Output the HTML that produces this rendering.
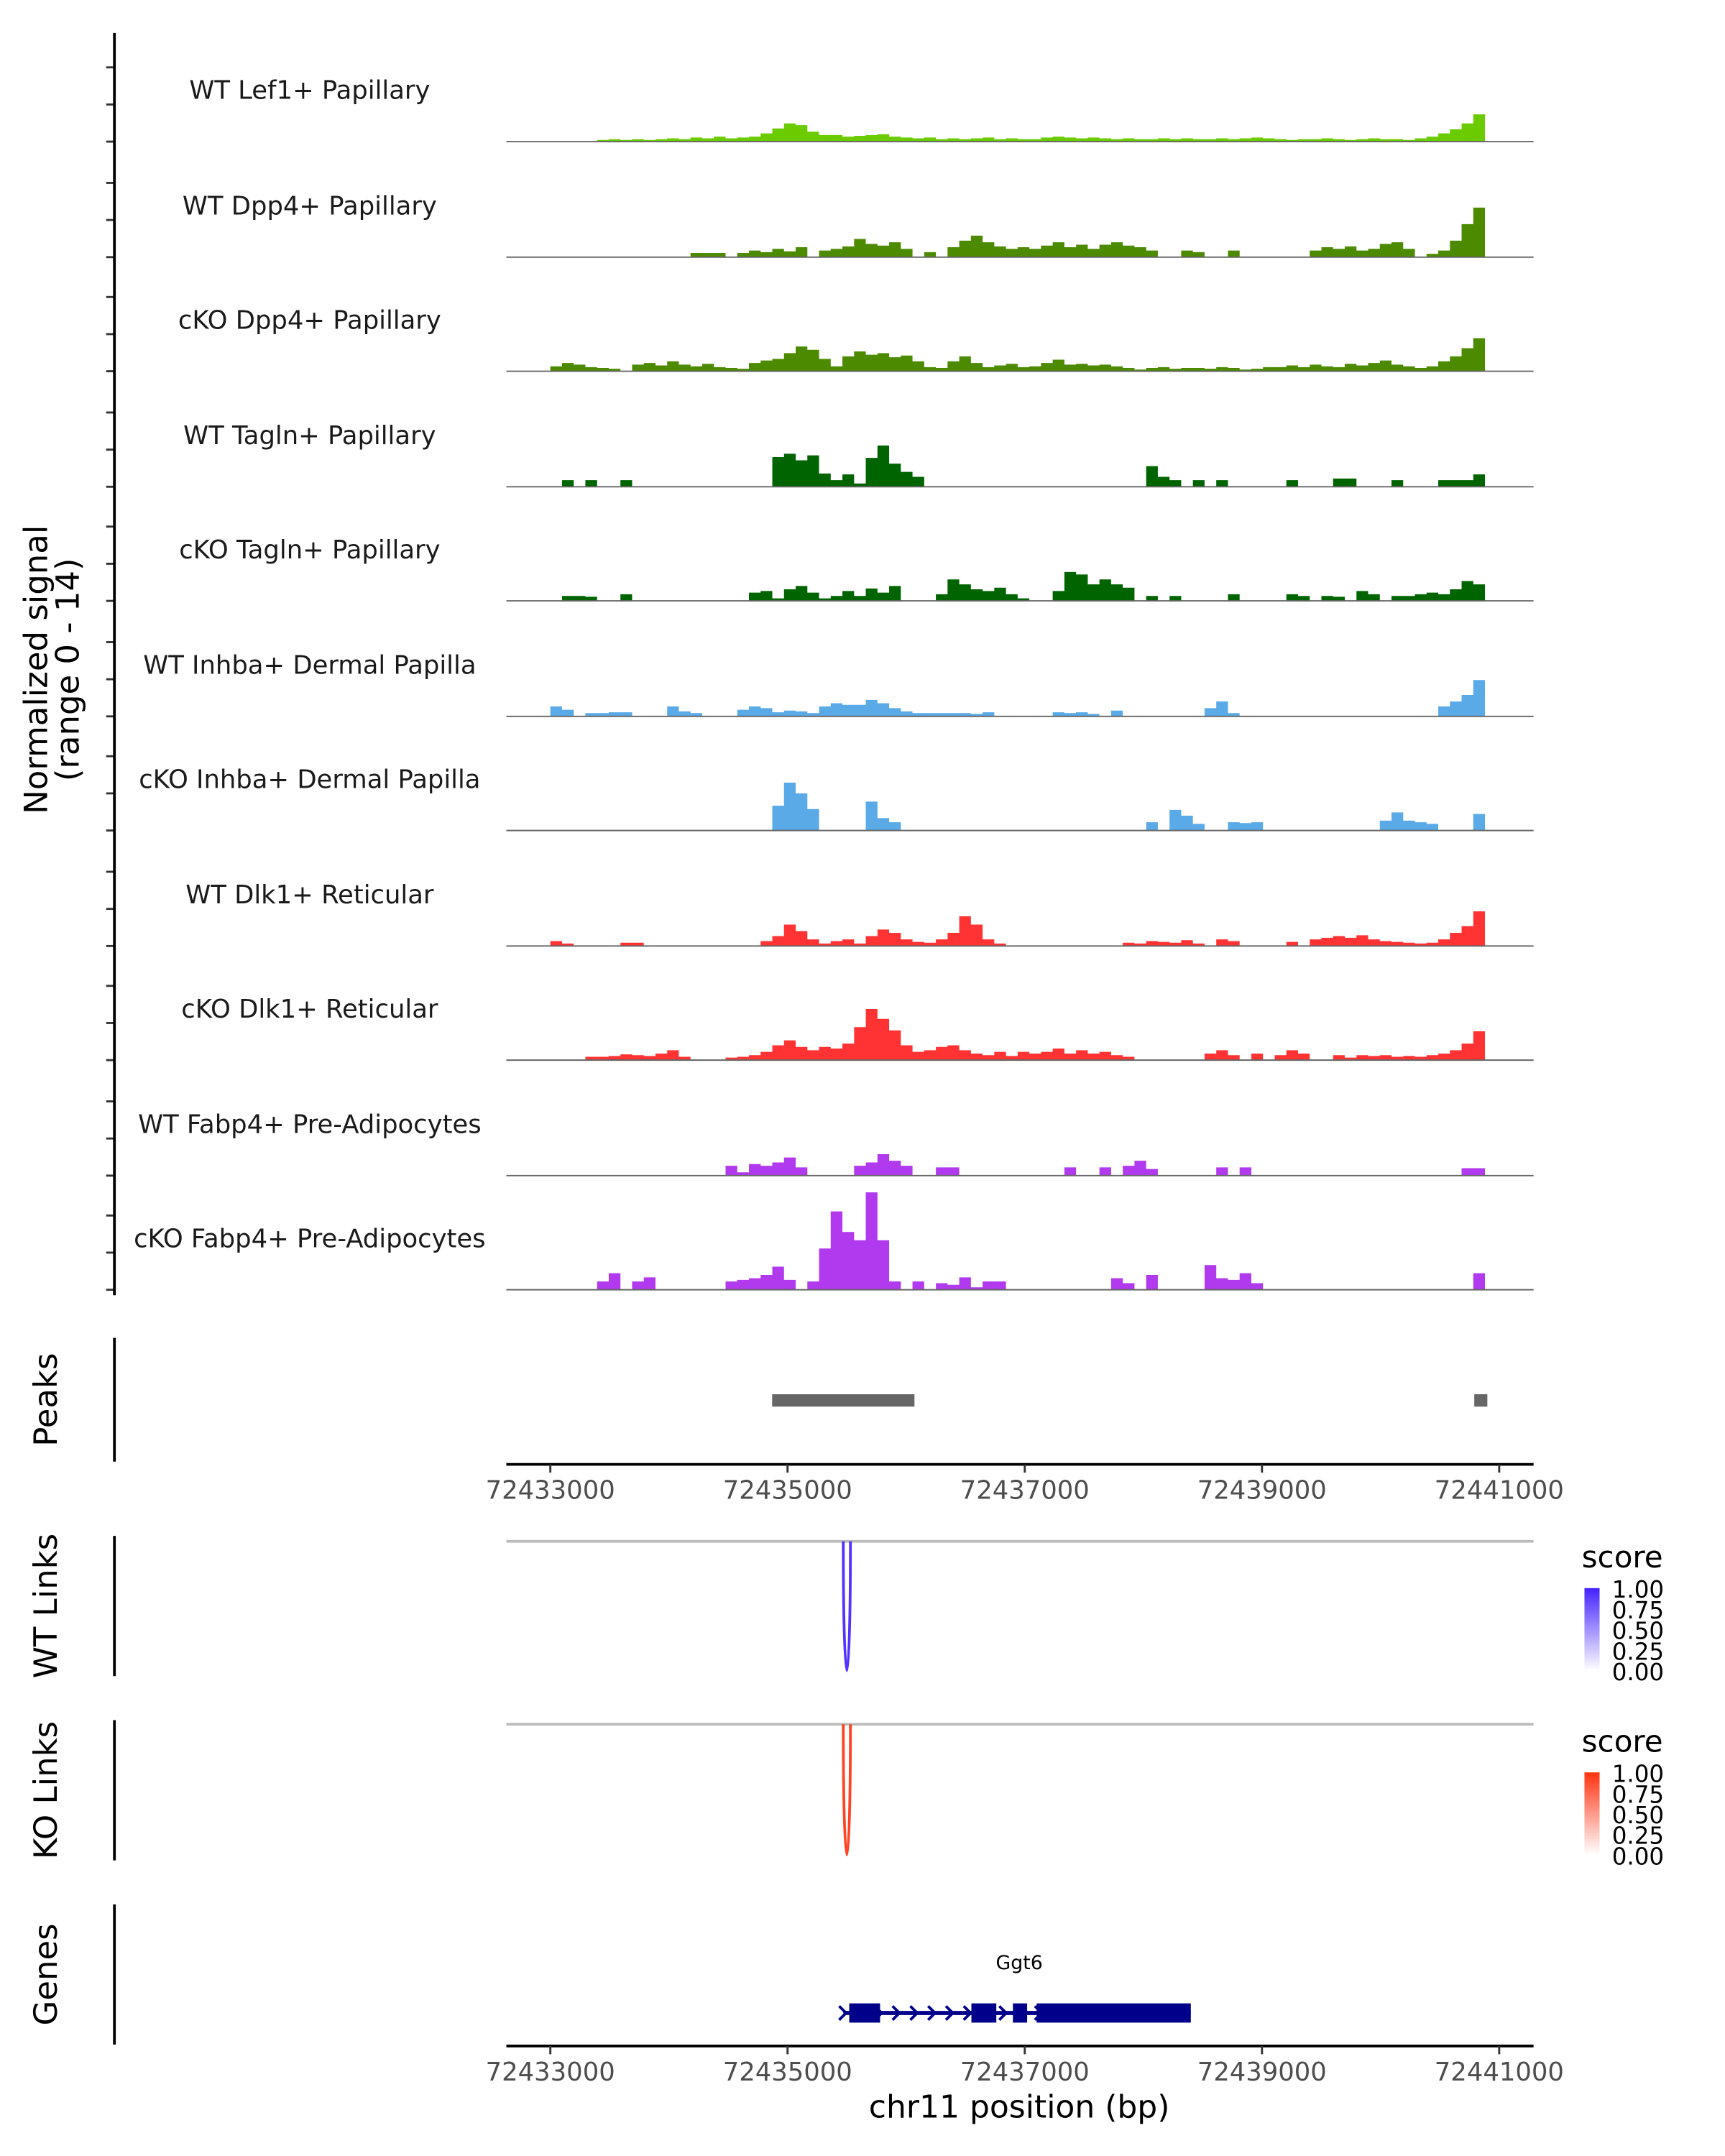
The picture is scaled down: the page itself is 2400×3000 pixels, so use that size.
<!DOCTYPE html>
<html><head><meta charset="utf-8">
<style>
html,body{margin:0;padding:0;background:#fff;}
svg{display:block;font-family:"DejaVu Sans","Liberation Sans",sans-serif;}
</style></head>
<body>
<svg id="chart" width="2400" height="3000" viewBox="0 0 1254 1568" xmlns="http://www.w3.org/2000/svg">
<g id="tracks"></g>
<g id="axes"></g>
</svg>
<script>
const trackNames = ["WT Lef1+ Papillary","WT Dpp4+ Papillary","cKO Dpp4+ Papillary","WT Tagln+ Papillary","cKO Tagln+ Papillary","WT Inhba+ Dermal Papilla","cKO Inhba+ Dermal Papilla","WT Dlk1+ Reticular","cKO Dlk1+ Reticular","WT Fabp4+ Pre-Adipocytes","cKO Fabp4+ Pre-Adipocytes"];
const trackColors = ["#6ACC00","#4C8A00","#4C8A00","#006400","#006400","#5AAAE8","#5AAAE8","#FF3333","#FF3333","#B23AEE","#B23AEE"];
const binStart = 72433000;
const binSize = 98.5;
const lef1WT = [0,0,0,0,0.2,0.3,0.2,0.3,0.2,0.3,0.4,0.3,0.5,0.4,0.6,0.4,0.5,0.6,1.0,1.6,2.2,2.0,1.2,0.8,0.8,0.6,0.7,0.8,0.9,0.6,0.5,0.4,0.5,0.3,0.4,0.3,0.4,0.5,0.3,0.4,0.3,0.3,0.5,0.6,0.5,0.4,0.5,0.4,0.3,0.4,0.3,0.3,0.4,0.3,0.4,0.3,0.3,0.4,0.3,0.4,0.5,0.4,0.3,0.2,0.3,0.3,0.4,0.3,0.2,0.3,0.4,0.3,0.3,0.2,0.4,0.6,1.0,1.5,2.2,3.3];
const dpp4WT = [0,0,0,0,0,0,0,0,0,0,0,0,0.5,0.5,0.5,0,0.5,0.8,0.6,1.0,0.7,1.2,0,0.8,1.0,1.3,2.2,1.6,1.4,1.8,1.0,0,0.6,0,1.2,2.0,2.6,1.8,1.3,1.0,1.2,1.0,1.4,1.8,1.2,1.5,1.0,1.5,1.8,1.4,1.2,0.8,0,0,0.8,0.6,0,0,0.8,0,0,0,0,0,0,0.8,1.2,1.0,1.3,0.8,1.0,1.6,1.8,1.0,0,0.4,0.8,2.0,4.0,6.0];
const dpp4KO = [0.6,1.0,0.8,0.5,0.4,0.3,0,0.8,1.0,0.7,1.2,0.8,0.6,0.9,0.5,0.4,0.3,1.0,1.3,1.5,2.2,3.0,2.6,1.5,0.6,1.8,2.4,2.0,2.2,1.7,1.9,1.2,0.5,0.4,1.2,1.8,1.0,0.5,0.7,0.9,0.5,0.6,1.0,1.4,0.8,0.9,0.7,0.8,0.6,0.4,0.2,0.4,0.5,0.3,0.4,0.4,0.3,0.5,0.4,0.2,0.3,0.5,0.5,0.7,0.5,0.8,0.6,0.5,0.9,0.7,1.0,1.3,0.8,0.6,0.4,0.6,1.2,1.8,2.8,4.0];
const taglnWT = [0,0.8,0,0.8,0,0,0.8,0,0,0,0,0,0,0,0,0,0,0,0,3.6,4.0,3.2,3.8,1.6,0.8,1.5,0.4,3.5,5.0,2.8,1.8,1.2,0,0,0,0,0,0,0,0,0,0,0,0,0,0,0,0,0,0,0,2.5,1.2,0.8,0,0.8,0,0.8,0,0,0,0,0,0.8,0,0,0,1.0,1.0,0,0,0,0.8,0,0,0,0.8,0.8,0.8,1.5];
const taglnKO = [0,0.6,0.6,0.5,0,0,0.8,0,0,0,0,0,0,0,0,0,0,1.0,1.2,0.3,1.4,1.8,1.0,0.3,0.6,1.2,0.6,1.5,1.0,1.8,0,0,0,0.8,2.6,2.0,1.4,1.2,1.6,0.8,0.3,0,0,1.2,3.5,3.2,2.0,2.6,2.0,1.6,0,0.6,0,0.6,0,0,0,0,0.8,0,0,0,0,0.8,0.6,0,0.6,0.5,0,1.2,0.8,0,0.6,0.6,0.8,1.0,0.8,1.4,2.4,2.0];
const inhbaWT = [1.2,0.8,0,0.4,0.4,0.5,0.5,0,0,0,1.2,0.6,0.4,0,0,0,0.8,1.2,1.0,0.5,0.7,0.6,0.4,1.2,1.6,1.4,1.4,2.0,1.6,1.0,0.6,0.4,0.4,0.4,0.4,0.4,0.3,0.5,0,0,0,0,0,0.5,0.4,0.5,0.3,0,0.7,0,0,0,0,0,0,0,1.0,1.8,0.4,0,0,0,0,0,0,0,0,0,0,0,0,0,0,0,0,0,1.2,1.8,2.6,4.4];
const inhbaKO = [0,0,0,0,0,0,0,0,0,0,0,0,0,0,0,0,0,0,0,3.0,5.8,4.5,2.6,0,0,0,0,3.5,1.5,1.0,0,0,0,0,0,0,0,0,0,0,0,0,0,0,0,0,0,0,0,0,0,1.0,0,2.5,1.8,0.8,0,0,1.0,0.9,1.0,0,0,0,0,0,0,0,0,0,0,1.2,2.2,1.2,1.0,0.8,0,0,0,2.0];
const dlk1WT = [0.6,0.3,0,0,0,0,0.4,0.4,0,0,0,0,0,0,0,0,0,0,0.6,1.2,2.6,1.8,0.8,0.3,0.6,0.8,0.3,1.2,2.0,1.6,0.8,0.5,0.4,0.8,1.6,3.6,2.6,0.8,0.3,0,0,0,0,0,0,0,0,0,0,0.4,0.3,0.6,0.5,0.4,0.7,0.3,0,0.8,0.6,0,0,0,0,0.5,0,0.8,1.0,1.2,1.0,1.3,0.8,0.6,0.5,0.4,0.3,0.4,0.8,1.6,2.4,4.2];
const dlk1KO = [0,0,0,0.4,0.4,0.5,0.7,0.6,0.5,0.8,1.2,0.4,0,0,0,0.3,0.4,0.6,1.0,1.8,2.4,1.6,1.2,1.6,1.4,2.0,4.0,6.2,5.0,3.6,1.8,1.0,1.2,1.6,1.8,1.2,0.8,0.6,1.0,0.5,1.0,0.8,1.0,1.4,0.8,1.2,0.8,1.0,0.6,0.4,0,0,0,0,0,0,0.8,1.2,0.6,0,0.8,0,0.6,1.2,0.8,0,0,0.6,0.3,0.6,0.5,0.6,0.4,0.5,0.4,0.6,0.8,1.2,2.0,3.5];
const fabp4WT = [0,0,0,0,0,0,0,0,0,0,0,0,0,0,0,1.2,0.4,1.4,1.2,1.6,2.2,1.0,0,0,0,0,1.2,1.6,2.6,1.8,1.2,0,0,1.0,1.0,0,0,0,0,0,0,0,0,0,1.0,0,0,1.0,0,1.2,1.8,0.8,0,0,0,0,0,1.0,0,1.0,0,0,0,0,0,0,0,0,0,0,0,0,0,0,0,0,0,0,0.9,0.9];
const fabp4KO = [0,0,0,0,1.0,2.0,0,1.0,1.5,0,0,0,0,0,0,1.0,1.2,1.4,1.8,2.8,1.2,0,1.0,5.0,9.5,7.0,6.0,11.8,6.0,1.0,0,1.0,0,0.8,0.6,1.5,0.3,1.0,1.0,0,0,0,0,0,0,0,0,0,1.4,0.8,0,1.8,0,0,0,0,3.0,1.4,1.2,2.0,0.8,0,0,0,0,0,0,0,0,0,0,0,0,0,0,0,0,0,0,2.0];
const trackValues = [lef1WT,dpp4WT,dpp4KO,taglnWT,taglnKO,inhbaWT,inhbaKO,dlk1WT,dlk1KO,fabp4WT,fabp4KO];
const xTicks = [72433000,72435000,72437000,72439000,72441000];
const peakStarts = [72434870,72440790];
const peakEnds = [72436070,72440900];
const linkStartsWT = [72435470];
const linkEndsWT = [72435530];
const linkScoresWT = [0.8];
const linkStartsKO = [72435470];
const linkEndsKO = [72435530];
const linkScoresKO = [0.8];
const exonStarts = [72435520,72436550,72436900,72437100];
const exonEnds = [72435780,72436760,72437020,72438400];
const geneStart = 72435470;
const geneEnd = 72438400;
const legendTicks = ["1.00","0.75","0.50","0.25","0.00"];

const NS="http://www.w3.org/2000/svg";
const X0=72433000, PX0=400, PXPERBP=690/8000;
function xs(bp){return PX0+(bp-X0)*PXPERBP;}
const PLOTL=368, PLOTR=1115;
const baselines=[103,187,270,354,437,521,604,688,771,855,938];
const UNIT=6;
function ys(v,base){return base-v*UNIT;}
function mk(tag,attrs,parent){const e=document.createElementNS(NS,tag);for(const k in attrs)e.setAttribute(k,attrs[k]);parent.appendChild(e);return e;}
const tg=document.getElementById('tracks');
const ag=document.getElementById('axes');

trackValues.forEach((vals,t)=>{
  const base=baselines[t];
  const g=mk('g',{},tg);
  
  
  const lab=mk('text',{x:225,y:base-31,'text-anchor':'middle','font-size':18.5,fill:'#1a1a1a'},g);
  lab.textContent=trackNames[t];
  
  
  let d='M'+xs(binStart)+','+base;
  vals.forEach((v,i)=>{
    const xa=xs(binStart+i*binSize), xb=xs(binStart+(i+1)*binSize);
    const y=ys(v,base);
    d+=' L'+xa.toFixed(2)+','+y.toFixed(2)+' L'+xb.toFixed(2)+','+y.toFixed(2);
  });
  d+=' L'+xs(binStart+vals.length*binSize)+','+base+' Z';
  const p=mk('path',{d:d,fill:trackColors[t],stroke:'none'},g);
  
  
  const bl=mk('line',{x1:PLOTL,x2:PLOTR,y1:base,y2:base,stroke:'#666','stroke-width':1},g);
  
  
  [0,27,54].forEach(o=>{
    const tk=mk('line',{x1:77,x2:83,y1:base-o,y2:base-o,stroke:'#333','stroke-width':1.5},ag);
    
    
  });
});
function vline(y1,y2,name){const l=mk('line',{x1:83,x2:83,y1:y1,y2:y2,stroke:'#000','stroke-width':2},ag);}
vline(24,942,'signal-y-axis');
vline(973,1063,'peaks-y-axis');
vline(1117,1219,'wt-links-y-axis');
vline(1251,1353,'ko-links-y-axis');
vline(1385,1487,'genes-y-axis');
function ytitle(txt,cy,name,lines){
  const t=mk('text',{transform:'translate(40,'+cy+') rotate(-90)','text-anchor':'middle','font-size':23.5,fill:'#000'},ag);
  
  
  if(lines){lines.forEach((s,i)=>{const ts=mk('tspan',{x:0,dy:i===0?-6:23},t);ts.textContent=s;});}
  else{t.setAttribute('transform','translate(41,'+cy+') rotate(-90)');t.textContent=txt;}
}
ytitle('',487,'signal-y-title',['Normalized signal','(range 0 - 14)']);
ytitle('Peaks',1018,'peaks-y-title');
ytitle('WT Links',1168,'wt-links-y-title');
ytitle('KO Links',1302,'ko-links-y-title');
ytitle('Genes',1436,'genes-y-title');

peakStarts.forEach((s,i)=>{
  const r=mk('rect',{x:xs(s),y:1014,width:xs(peakEnds[i])-xs(s),height:9,fill:'#666'},ag);
  
  
});
function xaxis(y,name){
  const g=mk('g',{},ag);
  
  
  mk('line',{x1:PLOTL,x2:PLOTR,y1:y,y2:y,stroke:'#000','stroke-width':2},g);
  xTicks.forEach(v=>{
    mk('line',{x1:xs(v),x2:xs(v),y1:y,y2:y+6,stroke:'#333','stroke-width':1.5},g);
    const t=mk('text',{x:xs(v),y:y+25,'text-anchor':'middle','font-size':18.5,fill:'#4d4d4d'},g);
    t.textContent=v;
    
    
  });
}
xaxis(1065,'peaks-x-axis');
xaxis(1488,'genes-x-axis');
const xt=mk('text',{x:741,y:1540,'text-anchor':'middle','font-size':23,fill:'#000'},ag);
xt.textContent='chr11 position (bp)';



function links(top,bottom,starts,ends,scores,c1,name,legendY,gid){
  const g=mk('g',{},ag);
  
  
  mk('line',{x1:PLOTL,x2:PLOTR,y1:top,y2:top,stroke:'#bbb','stroke-width':2},g);
  starts.forEach((s,i)=>{
    const a=xs(s),b=xs(ends[i]);
    const depth=(bottom-top)*4/3;
    const p=mk('path',{d:'M'+a+','+top+' C'+a+','+(top+depth)+' '+b+','+(top+depth)+' '+b+','+top,fill:'none',stroke:c1,'stroke-width':2,'stroke-opacity':0.6+0.4*scores[i]},g);
    
    
  });
  const defs=mk('defs',{},g);
  const lg=mk('linearGradient',{id:gid,x1:0,y1:0,x2:0,y2:1},defs);
  mk('stop',{offset:0,'stop-color':c1},lg);
  mk('stop',{offset:1,'stop-color':'#ffffff'},lg);
  const st=mk('text',{x:1150,y:legendY-15,'font-size':22,fill:'#000'},g);
  st.textContent='score';
  
  
  const cb=mk('rect',{x:1152,y:legendY,width:11,height:60,fill:'url(#'+gid+')'},g);
  
  
  legendTicks.forEach((l,i)=>{
    const t=mk('text',{x:1172,y:legendY+7+i*15,'font-size':17,fill:'#000'},g);
    t.textContent=l;
    
    
  });
}
links(1121,1215,linkStartsWT,linkEndsWT,linkScoresWT,'#4422FF','wt-links-panel',1155,'gradWT');
links(1254,1349,linkStartsKO,linkEndsKO,linkScoresKO,'#FF3311','ko-links-panel',1289,'gradKO');

const gg=mk('g',{},ag);


const gl=mk('text',{x:741,y:1432,'text-anchor':'middle','font-size':14,fill:'#000'},gg);
gl.textContent='Ggt6';
mk('line',{x1:xs(geneStart),x2:xs(geneEnd),y1:1464,y2:1464,stroke:'#00008B','stroke-width':3},gg);
for(let bp=geneStart;bp<geneEnd;bp+=150){
  const x=xs(bp);
  mk('path',{d:'M'+(x-3)+','+(1459)+' L'+(x+2)+',1464 L'+(x-3)+',1469',fill:'none',stroke:'#00008B','stroke-width':2},gg);
}
exonStarts.forEach((s,i)=>{
  const r=mk('rect',{x:xs(s),y:1457,width:xs(exonEnds[i])-xs(s),height:14,fill:'#00008B'},gg);
  
  
});
</script>
</body></html>
